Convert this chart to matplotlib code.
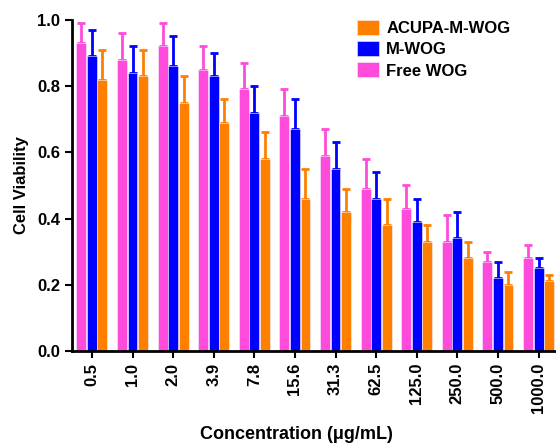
import numpy as np
import matplotlib
matplotlib.use("Agg")
import matplotlib.pyplot as plt

plt.rcParams['font.family'] = ['Liberation Sans', 'DejaVu Sans']
plt.rcParams['font.weight'] = 'bold'

concentrations = ["0.5", "1.0", "2.0", "3.9", "7.8", "15.6", "31.3", "62.5",
                  "125.0", "250.0", "500.0", "1000.0"]

free_wog = [0.93, 0.88, 0.92, 0.85, 0.79, 0.71, 0.59, 0.49, 0.43, 0.33, 0.27, 0.28]
free_wog_err = [0.06, 0.08, 0.07, 0.07, 0.08, 0.08, 0.08, 0.09, 0.07, 0.08, 0.03, 0.04]

m_wog = [0.89, 0.84, 0.86, 0.83, 0.72, 0.67, 0.55, 0.46, 0.39, 0.34, 0.22, 0.25]
m_wog_err = [0.08, 0.08, 0.09, 0.07, 0.08, 0.09, 0.08, 0.08, 0.07, 0.08, 0.05, 0.03]

acupa = [0.82, 0.83, 0.75, 0.69, 0.58, 0.46, 0.42, 0.38, 0.33, 0.28, 0.20, 0.21]
acupa_err = [0.09, 0.08, 0.08, 0.07, 0.08, 0.09, 0.07, 0.08, 0.05, 0.05, 0.04, 0.02]

c_pink = "#ff4bdc"
c_blue = "#0000ff"
c_orange = "#ff8000"

fig = plt.figure(figsize=(5.56, 4.43), dpi=100)
ax = fig.add_axes([0.1295, 0.2077, 1.0 - 0.1295, 0.955 - 0.2077])

x = np.arange(len(concentrations))
w = 0.26
series = [
    (free_wog, free_wog_err, c_pink, "Free WOG", -w),
    (m_wog, m_wog_err, c_blue, "M-WOG", 0.0),
    (acupa, acupa_err, c_orange, "ACUPA-M-WOG", w),
]
handles = {}
for vals, errs, col, lab, off in series:
    b = ax.bar(x + off, vals, width=w * 0.94, color=col, label=lab,
               edgecolor="#f0f0ff", linewidth=0.4, zorder=2)
    ax.errorbar(x + off, vals, yerr=[np.zeros(len(vals)), errs], fmt="none",
                ecolor=col, elinewidth=2, capsize=3, capthick=2, zorder=1)
    handles[lab] = b

ax.set_xlim(-0.49, 11.43)
ax.set_ylim(0, 1.0)
ax.set_yticks([0.0, 0.2, 0.4, 0.6, 0.8, 1.0])
ax.set_yticklabels(["0.0", "0.2", "0.4", "0.6", "0.8", "1.0"])
ax.set_xticks(x)
ax.set_xticklabels(concentrations, rotation=90)

for s in ["top", "right"]:
    ax.spines[s].set_visible(False)
for s in ["left", "bottom"]:
    ax.spines[s].set_linewidth(2)
ax.tick_params(axis="both", width=1.5, length=5, labelsize=12, direction="out")

ax.set_ylabel("Cell Viability", fontsize=12, fontweight="bold", labelpad=6)
ax.set_xlabel("Concentration (\u03bcg/mL)", fontsize=13, fontweight="bold")
ax.xaxis.set_label_coords(0.463, -0.228)

order = ["ACUPA-M-WOG", "M-WOG", "Free WOG"]
ax.legend([handles[k] for k in order], order, loc="upper left",
          bbox_to_anchor=(0.558, 1.045), frameon=False, fontsize=12,
          handlelength=1.3, handleheight=1.0, labelspacing=0.3, handletextpad=0.45)

fig.savefig("out.png", dpi=100)
